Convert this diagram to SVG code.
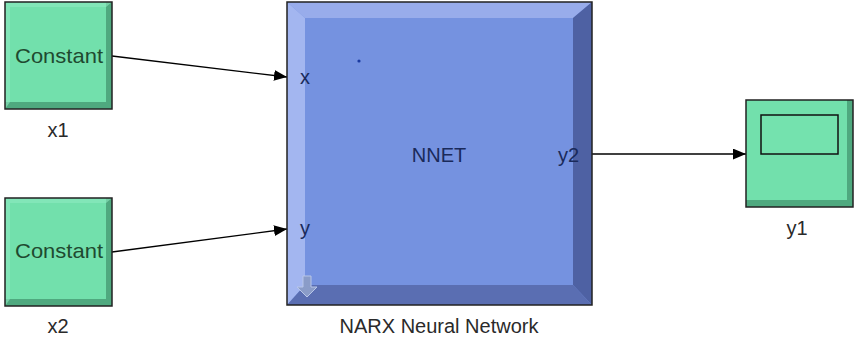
<svg xmlns="http://www.w3.org/2000/svg" width="855" height="338" viewBox="0 0 855 338">
<defs>
<style>
.lbl{font-family:"Liberation Sans",Arial,sans-serif;font-size:20px;fill:#2a2a2a;text-anchor:middle}
.in{font-family:"Liberation Sans",Arial,sans-serif;font-size:20px;fill:#1a2a5a}
.ctext{font-family:"Liberation Sans",Arial,sans-serif;font-size:21px;fill:#1f4a30;text-anchor:middle}
.wire{stroke:#000;stroke-width:1.3;fill:none;marker-end:url(#ah)}
.gface{fill:#72e0ac}
.gdark{fill:#4fa97f}
.glight{fill:#8eeac0}
</style>
<marker id="ah" viewBox="0 0 12 10" refX="12" refY="5" markerWidth="13" markerHeight="11" markerUnits="userSpaceOnUse" orient="auto">
<path d="M0,0 L12,5 L0,10 Z" fill="#000"/>
</marker>
</defs>
<rect width="855" height="338" fill="#fff"/>
<g id="connectors">
<path class="wire" d="M112,56 L287,77"/>
<path class="wire" d="M112,252 L287,229"/>
<path class="wire" d="M592,154 L746,154"/>
</g>
<g id="x1">
<rect x="5" y="2" width="107" height="107" class="gface"/>
<polygon points="5,102 112,102 112,109 5,109" class="gdark"/>
<polygon points="106,2 112,2 112,109 106,109" class="gdark"/>
<polygon points="5,2 112,2 106,7 10,7 10,102 5,109" class="glight" opacity="0.6"/>
<rect x="5" y="2" width="107" height="107" fill="none" stroke="#222" stroke-width="1.5"/>
<text x="59" y="63" class="ctext" textLength="88" lengthAdjust="spacingAndGlyphs">Constant</text>
<text x="58" y="137" class="lbl">x1</text>
</g>
<g id="x2">
<rect x="5" y="198" width="107" height="108" class="gface"/>
<polygon points="5,299 112,299 112,306 5,306" class="gdark"/>
<polygon points="106,198 112,198 112,306 106,306" class="gdark"/>
<polygon points="5,198 112,198 106,203 10,203 10,299 5,306" class="glight" opacity="0.6"/>
<rect x="5" y="198" width="107" height="108" fill="none" stroke="#222" stroke-width="1.5"/>
<text x="59" y="258" class="ctext" textLength="88" lengthAdjust="spacingAndGlyphs">Constant</text>
<text x="58" y="333" class="lbl">x2</text>
</g>
<g id="nnet">
<rect x="287" y="2" width="305" height="303" fill="#7592e0"/>
<polygon points="287,2 592,2 573,18 305,18" fill="#98aceb"/>
<polygon points="287,2 305,18 305,285 287,305" fill="#a3b6f0"/>
<polygon points="592,2 592,305 573,285 573,18" fill="#4e61a3"/>
<polygon points="287,305 592,305 573,285 305,285" fill="#5a6eb2"/>
<rect x="287" y="2" width="305" height="303" fill="none" stroke="#222" stroke-width="1.5"/>
<circle cx="359" cy="61" r="1.6" fill="#1a3aa0"/>
<polygon points="303,276 311,276 311,287 317,287 307,297 297,287 303,287" fill="#8a9cc8" stroke="#b8c6e8" stroke-width="1"/>
<text x="439" y="162" class="in" text-anchor="middle">NNET</text>
<text x="300" y="84" class="in">x</text>
<text x="300" y="235" class="in">y</text>
<text x="579" y="162" class="in" text-anchor="end">y2</text>
<text x="439" y="333" class="lbl">NARX Neural Network</text>
</g>
<g id="y1">
<rect x="746" y="100" width="107" height="107" class="gface"/>
<polygon points="746,200 853,200 853,207 746,207" class="gdark"/>
<polygon points="847,100 853,100 853,207 847,207" class="gdark"/>
<rect x="746" y="100" width="107" height="107" fill="none" stroke="#222" stroke-width="1.5"/>
<rect x="761" y="115" width="77" height="39" fill="#74e2ae" stroke="#111" stroke-width="1.5"/>
<text x="797" y="235" class="lbl">y1</text>
</g>
</svg>
